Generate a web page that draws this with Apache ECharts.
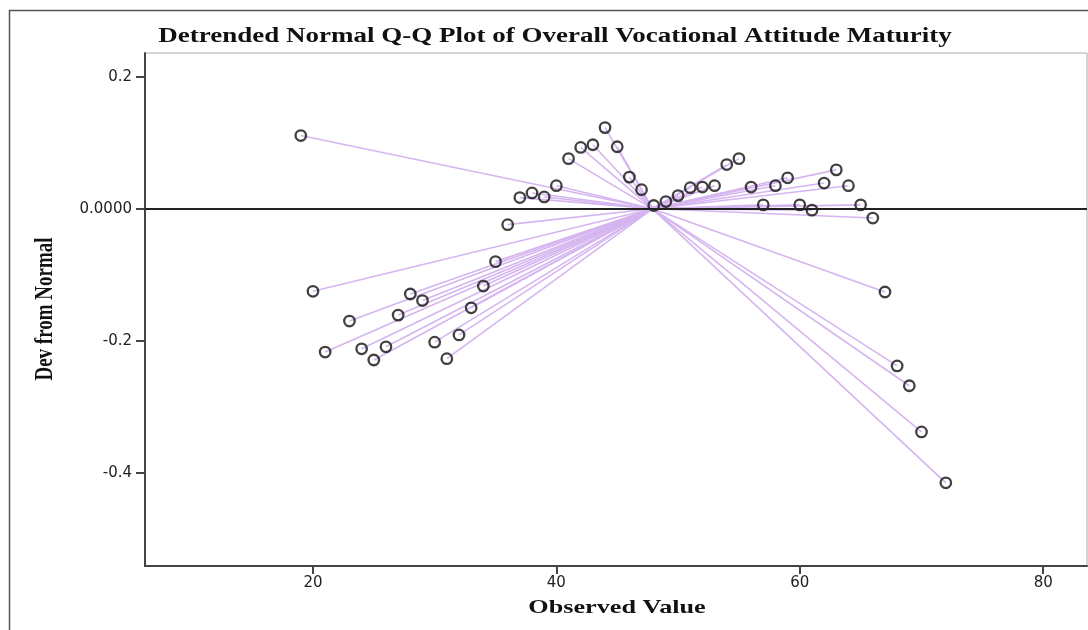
<!DOCTYPE html>
<html>
<head>
<meta charset="utf-8">
<script src="https://cdn.jsdelivr.net/npm/echarts@6/dist/echarts.min.js"></script>
<style>
  html, body { margin: 0; padding: 0; background: #fff; }
  #chart { width: 1088px; height: 630px; }
</style>
</head>
<body>
<div id="chart"></div>
<script>
// observed values and their deviation from normal
const observed = [19, 20, 21, 23, 24, 25, 26, 27, 28, 29, 30, 31, 32, 33, 34, 35, 36, 37, 38, 39,
  40, 41, 42, 43, 44, 45, 46, 47, 48, 49, 50, 51, 52, 53, 54, 55, 56, 57, 58, 59,
  60, 61, 62, 63, 64, 65, 66, 67, 68, 69, 70, 72];
const devFromNormal = [0.111, -0.125, -0.217, -0.170, -0.212, -0.229, -0.209, -0.161, -0.129, -0.139,
  -0.202, -0.227, -0.191, -0.150, -0.117, -0.080, -0.024, 0.017, 0.024, 0.018,
  0.035, 0.076, 0.093, 0.097, 0.123, 0.094, 0.048, 0.029, 0.005, 0.011,
  0.020, 0.032, 0.033, 0.035, 0.067, 0.076, 0.033, 0.006, 0.035, 0.047,
  0.006, -0.002, 0.039, 0.059, 0.035, 0.006, -0.014, -0.126, -0.238, -0.268,
  -0.338, -0.415];
// spokes meet at the mean
const centroid = [47.9, 0];
const xTicks = [20, 40, 60, 80];
const yTicks = [-0.4, -0.2, 0, 0.2];

const points = observed.map((x, i) => [x, devFromNormal[i]]);

const chart = echarts.init(document.getElementById("chart"));
chart.setOption({
  animation: false,
  grid: {
    left: 145,
    top: 53,
    right: 1,
    bottom: 64,
    show: true,
    borderColor: "#aaa",
    borderWidth: 1
  },
  xAxis: {
    type: "value",
    min: 6.2,
    max: 83.6,
    axisLine: { onZero: false, lineStyle: { color: "#444", width: 2 } },
    axisTick: { customValues: xTicks, length: 8, lineStyle: { color: "#444", width: 2 } },
    axisLabel: {
      customValues: xTicks,
      margin: 10,
      color: "#222",
      fontFamily: "DejaVu Sans",
      fontSize: 15
    },
    splitLine: { show: false }
  },
  yAxis: {
    type: "value",
    min: -0.541,
    max: 0.236,
    axisLine: { onZero: false, lineStyle: { color: "#444", width: 2 } },
    axisTick: { customValues: yTicks, length: 9, lineStyle: { color: "#444", width: 2 } },
    axisLabel: {
      customValues: yTicks,
      margin: 13,
      color: "#222",
      fontFamily: "DejaVu Sans",
      fontSize: 15,
      formatter: v => (Math.abs(v) < 1e-9 ? "0.0000" : v.toFixed(1))
    },
    splitLine: { show: false }
  },
  graphic: [
    {
      type: "rect",
      silent: true,
      shape: { x: 9.5, y: 10.5, width: 1200, height: 700 },
      style: { fill: "none", stroke: "#555", lineWidth: 1.5 }
    },
    {
      type: "text",
      x: 555,
      y: 37,
      scaleX: 1.35,
      style: {
        text: "Detrended Normal Q-Q Plot of Overall Vocational Attitude Maturity",
        font: "bold 20px 'Liberation Serif'",
        fill: "#111",
        textAlign: "center",
        textVerticalAlign: "middle"
      }
    },
    {
      type: "text",
      x: 617,
      y: 608,
      scaleX: 1.38,
      style: {
        text: "Observed Value",
        font: "bold 19px 'Liberation Serif'",
        fill: "#111",
        textAlign: "center",
        textVerticalAlign: "middle"
      }
    },
    {
      type: "text",
      x: 45,
      y: 309,
      rotation: Math.PI / 2,
      scaleY: 1.38,
      style: {
        text: "Dev from Normal",
        font: "bold 19px 'Liberation Serif'",
        fill: "#111",
        textAlign: "center",
        textVerticalAlign: "middle"
      }
    }
  ],
  series: [
    {
      type: "lines",
      coordinateSystem: "cartesian2d",
      silent: true,
      z: 1,
      lineStyle: { color: "#d5b5f0", width: 1.6, opacity: 1 },
      data: points.map(p => ({ coords: [p, centroid] }))
    },
    {
      type: "scatter",
      z: 3,
      symbol: "circle",
      symbolSize: 10.5,
      itemStyle: {
        color: "rgba(255,255,255,0)",
        borderColor: "#111",
        borderWidth: 2.3
      },
      data: points,
      markLine: {
        silent: true,
        symbol: "none",
        label: { show: false },
        lineStyle: { color: "#222", width: 2, type: "solid" },
        data: [{ yAxis: 0 }]
      }
    }
  ]
});
</script>
</body>
</html>
